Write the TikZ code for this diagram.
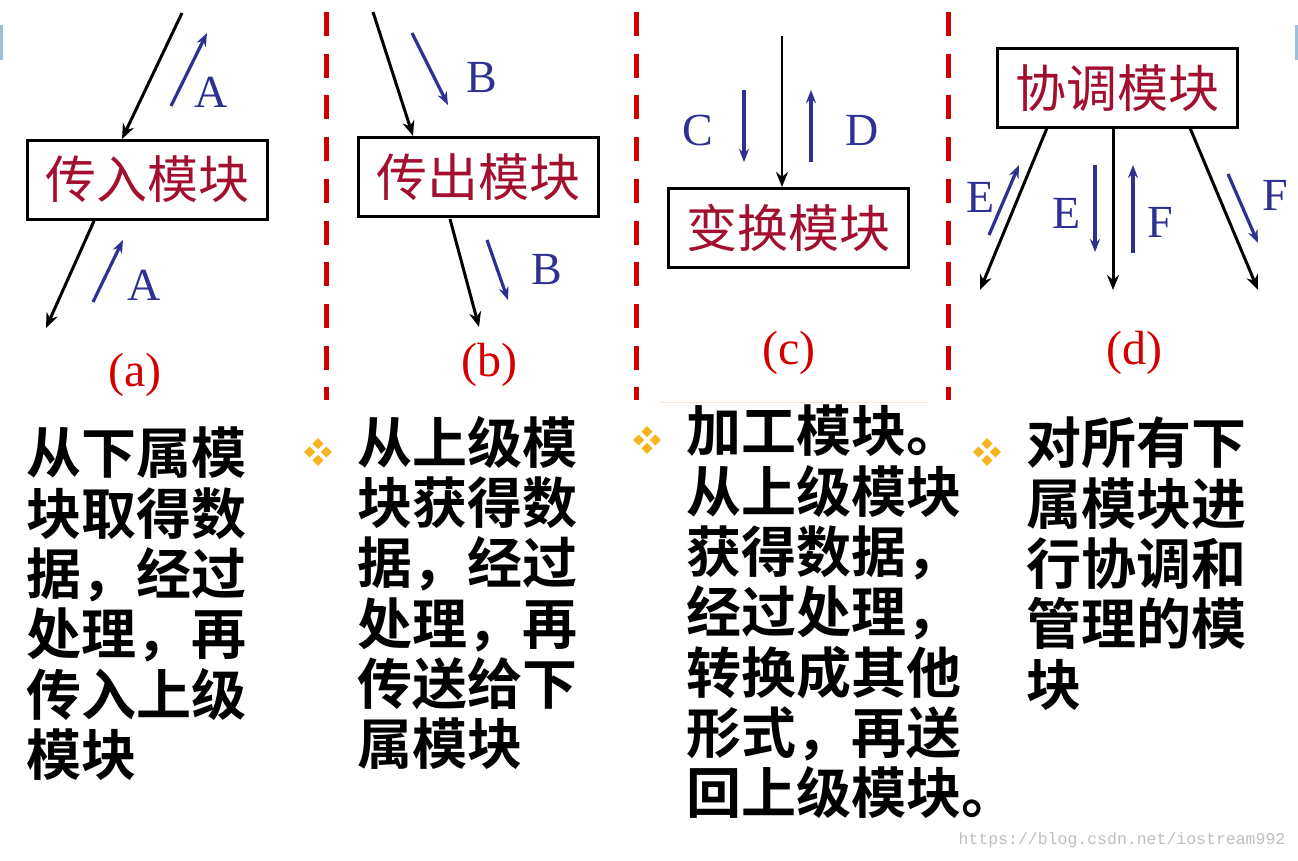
\documentclass[tikz,border=0pt]{standalone}
\usepackage{fontspec}
\setmainfont{Liberation Serif}
\newfontfamily\cjk{Noto Sans CJK SC}
\newfontfamily\cjkb{Noto Sans CJK SC Bold}
\newfontfamily\wmfont{Liberation Mono}
\usetikzlibrary{arrows.meta}
\definecolor{modred}{HTML}{A3102F}
\definecolor{capred}{HTML}{D40000}
\definecolor{lblue}{HTML}{2E3192}
\definecolor{dashred}{HTML}{CC0000}
\definecolor{bulor}{HTML}{F6B41E}
\definecolor{tickblue}{HTML}{9DBFDB}
\definecolor{peach}{HTML}{FBE3D0}
\newcommand\quadbul[2]{%
  \foreach \dx/\dy in {0/-8.3,8.3/0,0/8.3,-8.3/0}{%
    \fill[bulor] (#1+\dx,#2+\dy-5.5) -- (#1+\dx+5.5,#2+\dy) -- (#1+\dx,#2+\dy+5.5) -- (#1+\dx-5.5,#2+\dy) -- cycle;}}
\tikzset{
  modbox/.style={draw=black, line width=3pt, minimum width=240pt, minimum height=79pt, inner sep=0pt,
    font=\cjk\fontsize{51}{51}\selectfont, text=modred},
  blk/.style={draw=black, line width=3pt, -{Stealth[length=15pt,width=12pt]}},
  blu/.style={draw=lblue, line width=3.2pt, -{Stealth[length=13pt,width=10pt]}},
  lbl/.style={text=lblue, font=\fontsize{46}{46}\selectfont, inner sep=0pt},
  capt/.style={text=capred, font=\fontsize{48}{48}\selectfont, inner sep=0pt},
  body/.style={anchor=north west, align=left, inner sep=0pt, font=\cjkb\fontsize{55}{60.3}\selectfont},
  sepline/.style={draw=dashred, line width=5pt, dash pattern=on 24pt off 17.7pt}
}
\begin{document}
\begin{tikzpicture}[x=1pt,y=-1pt]
\useasboundingbox (0,0) rectangle (1298,860);
\fill[white] (0,0) rectangle (1298,860);
% slide edge ticks
\draw[tickblue, line width=3pt] (1.5,25) -- (1.5,60);
\draw[tickblue, line width=3pt] (1296,25) -- (1296,60);
% separators
\draw[sepline] (326,12) -- (326,400);
\draw[sepline] (636,12) -- (636,400);
\draw[sepline] (948,12) -- (948,400);
\draw[peach, line width=1pt] (660,402) -- (927,402);

% ---------- (a)
\node[modbox] (ma) at (147,179.5) {传入模块};
\coordinate (a1s) at (182,13); \coordinate (a1e) at (122,139);
\coordinate (a2s) at (94,221); \coordinate (a2e) at (46,328);
\coordinate (a3s) at (171,106); \coordinate (a3e) at (207,33);
\coordinate (a4s) at (93,302); \coordinate (a4e) at (123,240);
\draw[blk] (a1s) -- (a1e);
\draw[blk] (a2s) -- (a2e);
\draw[blu] (a3s) -- (a3e);
\draw[blu] (a4s) -- (a4e);
\node[lbl] (la1) at (211,92) {A};
\node[lbl] (la2) at (144,285) {A};
\node[capt] (ca) at (135,375) {(a)};

% ---------- (b)
\node[modbox] (mb) at (478.5,177) {传出模块};
\coordinate (b1s) at (373,12); \coordinate (b1e) at (413,136);
\coordinate (b2s) at (450,219); \coordinate (b2e) at (479,327);
\coordinate (b3s) at (412,33); \coordinate (b3e) at (448,105);
\coordinate (b4s) at (487,240); \coordinate (b4e) at (508,300);
\draw[blk] (b1s) -- (b1e);
\draw[blk] (b2s) -- (b2e);
\draw[blu] (b3s) -- (b3e);
\draw[blu] (b4s) -- (b4e);
\node[lbl] (lb1) at (482,78) {B};
\node[lbl] (lb2) at (547,270) {B};
\node[capt] (cb) at (489,365) {(b)};

% ---------- (c)
\node[modbox] (mc) at (788,228) {变换模块};
\coordinate (c1s) at (782,36);
\draw[blk, line width=2.4pt] (c1s) -- (mc.north -| c1s);
\coordinate (c2s) at (744,90); \coordinate (c2e) at (744,162);
\coordinate (c3s) at (811,162); \coordinate (c3e) at (811,90);
\draw[blu] (c2s) -- (c2e);
\draw[blu] (c3s) -- (c3e);
\node[lbl] (lc) at (698,130) {C};
\node[lbl] (ld) at (862,130) {D};
\node[capt] (cc) at (789,353) {(c)};

% ---------- (d)
\node[modbox] (md) at (1117.5,88) {协调模块};
\coordinate (d1s) at (1047,128); \coordinate (d1e) at (980,290);
\coordinate (d2s) at (1113,128); \coordinate (d2e) at (1113,290);
\coordinate (d3s) at (1190,128); \coordinate (d3e) at (1258,290);
\draw[blk] (d1s) -- (d1e);
\draw[blk] (d2s) -- (d2e);
\draw[blk] (d3s) -- (d3e);
\coordinate (d4s) at (989,235); \coordinate (d4e) at (1019,165);
\coordinate (d5s) at (1095,165); \coordinate (d5e) at (1095,252);
\coordinate (d6s) at (1133,253); \coordinate (d6e) at (1133,165);
\coordinate (d7s) at (1228,174); \coordinate (d7e) at (1258,243);
\draw[blu] (d4s) -- (d4e);
\draw[blu] (d5s) -- (d5e);
\draw[blu] (d6s) -- (d6e);
\draw[blu] (d7s) -- (d7e);
\node[lbl] (le1) at (981,197) {E};
\node[lbl] (le2) at (1067,213) {E};
\node[lbl] (lf1) at (1160,222) {F};
\node[lbl] (lf2) at (1275,195) {F};
\node[capt] (cd) at (1134,353) {(d)};

% ---------- texts
\node[body] (ta) at (26,427) {从下属模\\块取得数\\据，经过\\处理，再\\传入上级\\模块};
\quadbul{318}{452}
\node[body] (tb) at (357,416) {从上级模\\块获得数\\据，经过\\处理，再\\传送给下\\属模块};
\quadbul{647}{440}
\node[body] (tc) at (686,405) {加工模块。\\从上级模块\\获得数据，\\经过处理，\\转换成其他\\形式，再送\\回上级模块。};
\quadbul{987}{452}
\node[body] (td) at (1026,417) {对所有下\\属模块进\\行协调和\\管理的模\\块};

\node[text=black!25, font=\wmfont\fontsize{16.5}{16.5}\selectfont, inner sep=0pt] (wm) at (1122,840) {https://blog.csdn.net/iostream992};
\end{tikzpicture}
\end{document}
